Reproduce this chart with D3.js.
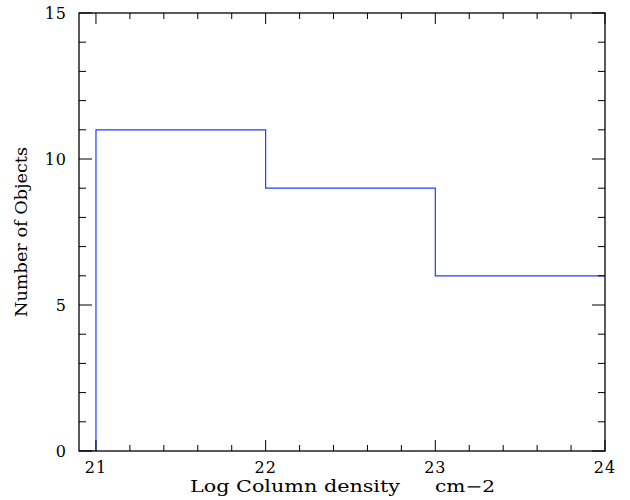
<!DOCTYPE html>
<html><head><meta charset="utf-8">
<script src="https://cdn.jsdelivr.net/npm/d3@7"></script>
<style>body{margin:0;background:#fff}svg text{font-family:"DejaVu Serif",serif;fill:#000}</style>
</head><body>
<svg id="c" width="630" height="500"></svg>
<script>
const binEdges = [20, 21, 22, 23, 24];
const counts = [0, 11, 9, 6];
const xMajor = [21, 22, 23, 24];
const yMajor = [0, 5, 10, 15];
const xLabelA = "Log Column density";
const xLabelB = "cm\u22122";
const yLabel = "Number of Objects";

const svg = d3.select("#c");
const L = 79, R = 605, T = 13, B = 451;
const x = d3.scaleLinear().domain([20.9, 24]).range([L, R]);
const y = d3.scaleLinear().domain([0, 15]).range([B, T]);

svg.append("defs").append("clipPath").attr("id","clip")
  .append("rect").attr("x",L).attr("y",T).attr("width",R-L).attr("height",B-T);

const pts = [];
counts.forEach((c,i)=>{ pts.push([binEdges[i], c]); pts.push([binEdges[i+1], c]); });
svg.append("path").attr("clip-path","url(#clip)")
  .attr("d", d3.line().x(d=>x(d[0])).y(d=>y(d[1]))(pts))
  .attr("fill","none").attr("stroke","#1f3dff").attr("stroke-width",1.2);

svg.append("rect").attr("x",L).attr("y",T).attr("width",R-L).attr("height",B-T)
  .attr("fill","none").attr("stroke","#000").attr("stroke-width",1.3);

const xMinor = d3.range(21, 24.001, 0.2).map(v=>+v.toFixed(1));
const yMinor = d3.range(0, 15.001, 1);
const g = svg.append("g").attr("stroke","#000").attr("stroke-width",1);
xMinor.forEach(v=>{
  const maj = xMajor.includes(v); const len = maj?11:6;
  g.append("line").attr("x1",x(v)).attr("x2",x(v)).attr("y1",B).attr("y2",B-len);
  g.append("line").attr("x1",x(v)).attr("x2",x(v)).attr("y1",T).attr("y2",T+len);
});
yMinor.forEach(v=>{
  const maj = yMajor.includes(v); const len = maj?13:7;
  g.append("line").attr("y1",y(v)).attr("y2",y(v)).attr("x1",L).attr("x2",L+len);
  g.append("line").attr("y1",y(v)).attr("y2",y(v)).attr("x1",R).attr("x2",R-len);
});

xMajor.forEach(v=>{
  svg.append("text").attr("x",x(v)).attr("y",473).attr("text-anchor","middle")
    .attr("font-size",16).attr("letter-spacing",1).text(v);
});
yMajor.forEach(v=>{
  svg.append("text").attr("x",67).attr("y",y(v)+5.5).attr("text-anchor","end")
    .attr("font-size",16).attr("letter-spacing",1).text(v);
});

svg.append("text").attr("x",190).attr("y",492).attr("font-size",16)
  .attr("textLength",210).attr("lengthAdjust","spacingAndGlyphs").text(xLabelA);
svg.append("text").attr("x",435).attr("y",492).attr("font-size",16)
  .attr("textLength",60).attr("lengthAdjust","spacingAndGlyphs").text(xLabelB);
svg.append("text").attr("transform","translate(27,317) rotate(-90)")
  .attr("font-size",16).attr("textLength",170).attr("lengthAdjust","spacingAndGlyphs").text(yLabel);
</script>
</body></html>
